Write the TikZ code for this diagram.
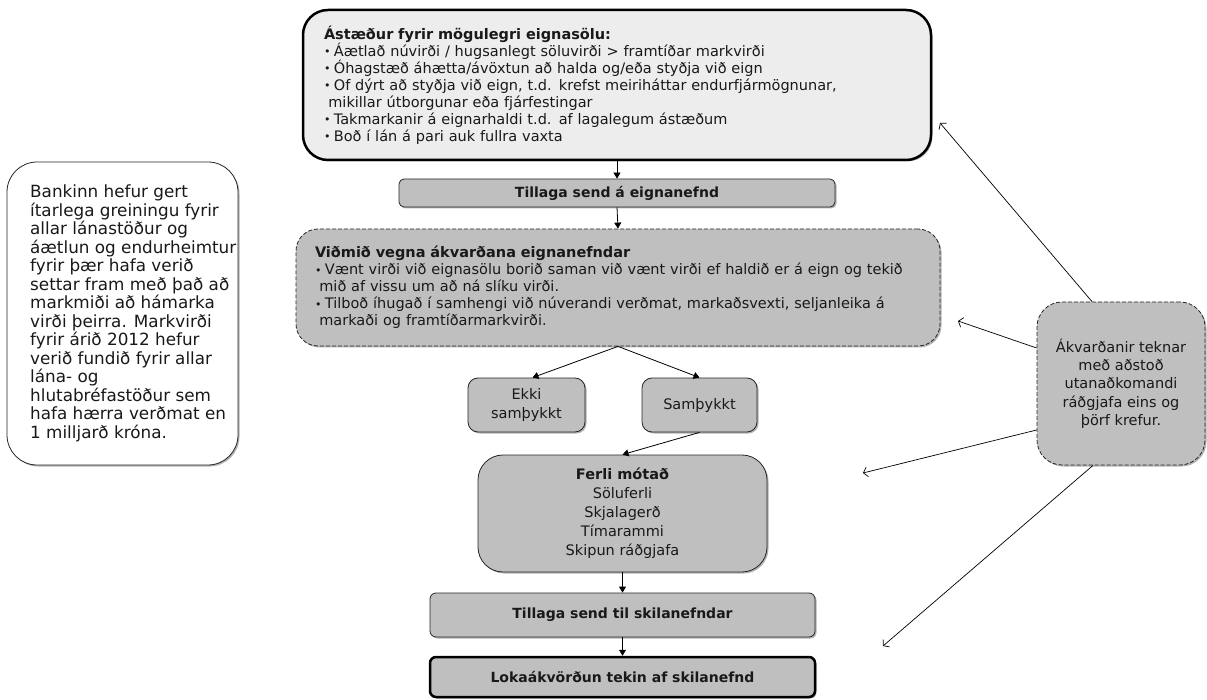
\documentclass[tikz,border=0pt]{standalone}
\usepackage{fontspec}
\setmainfont{DejaVu Sans}
\usetikzlibrary{arrows.meta,shadows}
\definecolor{boxgray}{HTML}{BFBFBF}
\definecolor{lightbox}{HTML}{EDEDED}
\newcommand\bul{\makebox[0.68em][l]{\raisebox{0.05em}{\fontsize{11}{11}\selectfont •}}}
\newcommand\ind{\hspace*{0.3em}}
\begin{document}
\begin{tikzpicture}[x=1pt,y=-1pt,
  sh/.style={drop shadow={shadow xshift=1.5pt,shadow yshift=-1.5pt,opacity=0.3,fill=black}},
  basebox/.style={draw=black!85,line width=0.8pt,fill=boxgray,sh,inner sep=0pt,text=black!90},
  topbox/.style={basebox,fill=lightbox,line width=2.5pt,draw=black,rounded corners=25pt,
     minimum width=628pt,minimum height=150pt,text width=586pt,inner xsep=21pt,align=left,
     font=\fontsize{14.5}{17}\selectfont},
  barbox/.style={basebox,rounded corners=5pt,font=\fontsize{14}{17}\selectfont\bfseries,align=center},
  dashbox/.style={basebox,dash pattern=on 4pt off 2pt,rounded corners=22pt,
     minimum width=644pt,minimum height=117pt,text width=606pt,inner xsep=19pt,align=left,
     font=\fontsize{14.5}{17}\selectfont},
  smallbox/.style={basebox,rounded corners=10pt,minimum width=117pt,minimum height=54pt,align=center,
     font=\fontsize{14.5}{19}\selectfont},
  arr/.style={-{Triangle[length=6pt,width=7pt]},line width=0.8pt,black},
  barb/.style={-{Straight Barb[length=4pt,width=10pt]},line width=0.7pt,black}
]
\useasboundingbox (0,0) rectangle (1207,700);

\node[topbox] (top) at (617,85) {\textbf{Ástæður fyrir mögulegri eignasölu:}\\
\bul Áætlað núvirði / hugsanlegt söluvirði > framtíðar markvirði\\
\bul Óhagstæð áhætta/ávöxtun að halda og/eða styðja við eign\\
\bul Of dýrt að styðja við eign, t.d. krefst meiriháttar endurfjármögnunar,\\
\ind mikillar útborgunar eða fjárfestingar\\
\bul Takmarkanir á eignarhaldi t.d. af lagalegum ástæðum\\
\bul Boð í lán á pari auk fullra vaxta};

\node[barbox,minimum width=436pt,minimum height=28pt] (t1) at (617,193) {Tillaga send á eignanefnd};

\node[dashbox] (dbox) at (618,287.5) {\textbf{Viðmið vegna ákvarðana eignanefndar}\\
\bul Vænt virði við eignasölu borið saman við vænt virði ef haldið er á eign og tekið\\
\ind mið af vissu um að ná slíku virði.\\
\bul Tilboð íhugað í samhengi við núverandi verðmat, markaðsvexti, seljanleika á\\
\ind markaði og framtíðarmarkvirði.};

\node[smallbox] (ekki) at (526.5,405) {Ekki\\samþykkt};
\node[smallbox,minimum width=115pt] (samb) at (699.5,405) {Samþykkt};

\node[smallbox,rounded corners=25pt,minimum width=289pt,minimum height=117pt] (ferli) at (622.5,513.5)
  {\textbf{Ferli mótað}\\Söluferli\\Skjalagerð\\Tímarammi\\Skipun ráðgjafa};

\node[barbox,rounded corners=6pt,minimum width=385pt,minimum height=44pt] (t2) at (622.5,615) {Tillaga send til skilanefndar};
\node[barbox,rounded corners=6pt,line width=2.5pt,draw=black,minimum width=385pt,minimum height=40pt] (loka) at (622.5,677) {Lokaákvörðun tekin af skilanefnd};

\node[basebox,fill=white,rounded corners=30pt,minimum width=231pt,minimum height=303pt] (leftbox) at (122.5,313.5) {};
\node[anchor=west,inner sep=0pt,align=left,text=black!90,font=\fontsize{16.8}{18.5}\selectfont] (lefttext) at (30,313.5)
  {Bankinn hefur gert\\ítarlega greiningu fyrir\\allar lánastöður og\\áætlun og endurheimtur\\fyrir þær hafa verið\\settar fram með það að\\markmiði að hámarka\\virði þeirra. Markvirði\\fyrir árið 2012 hefur\\verið fundið fyrir allar\\lána- og\\hlutabréfastöður sem\\hafa hærra verðmat en\\1 milljarð króna.};

\node[basebox,dash pattern=on 4pt off 2pt,rounded corners=25pt,minimum width=168pt,minimum height=163pt,align=center,
  font=\fontsize{14.5}{18.3}\selectfont] (rbox) at (1121,383.5)
  {Ákvarðanir teknar\\með aðstoð\\utanaðkomandi\\ráðgjafa eins og\\þörf krefur.};

\draw[arr] (top.south) -- (t1.north);
\draw[arr] (t1.south) -- (dbox.north);
\draw[arr] (dbox.south) -- ([xshift=6pt]ekki.north);
\draw[arr] (dbox.south) -- (samb.north);
\draw[arr] (samb.south) -- (ferli.north);
\draw[arr] (ferli.south) -- (t2.north);
\draw[arr] (t2.south) -- (loka.north);

\coordinate (c1) at (940,123);
\coordinate (c2) at (958,321);
\coordinate (c3) at (863,473);
\coordinate (c4) at (883,646);
\draw[barb] ([xshift=-29pt]rbox.north) -- (c1);
\draw[barb] ([yshift=35.5pt]rbox.west) -- (c2);
\draw[barb] ([yshift=-46.5pt]rbox.west) -- (c3);
\draw[barb] ([xshift=-28pt]rbox.south) -- (c4);
\end{tikzpicture}
\end{document}
